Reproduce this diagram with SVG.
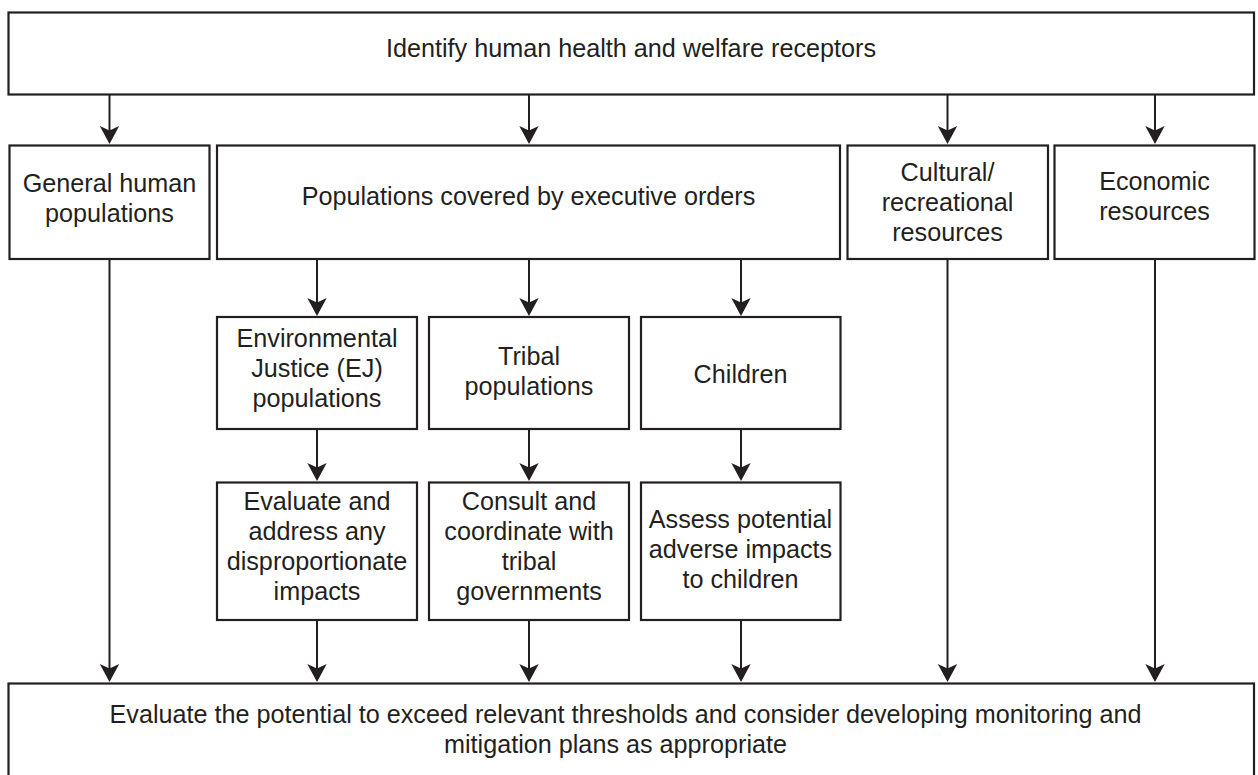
<svg xmlns="http://www.w3.org/2000/svg" width="1258" height="775" viewBox="0 0 1258 775">
<style>
.box{fill:#fff;stroke:#231f20;stroke-width:2.2}
.t{font-family:"Liberation Sans",Arial,sans-serif;font-size:25.2px;fill:#231f20;text-anchor:middle}
.c{stroke:#231f20;stroke-width:2;fill:none;marker-end:url(#ah)}
</style>
<defs>
<marker id="ah" markerUnits="userSpaceOnUse" markerWidth="22" markerHeight="24" viewBox="-20 -12 22 24" refX="-8" refY="0" orient="auto">
<path d="M0,0 L-18,-9.7 L-13.5,0 L-18,9.7 Z" fill="#231f20"/>
</marker>
</defs>
<rect width="1258" height="775" fill="#fff"/>
<g id="connectors">
<line class="c" x1="109.5" y1="94" x2="109.5" y2="136"/>
<line class="c" x1="529" y1="94" x2="529" y2="136"/>
<line class="c" x1="947.5" y1="94" x2="947.5" y2="136"/>
<line class="c" x1="1155" y1="94" x2="1155" y2="136"/>
<line class="c" x1="317" y1="259" x2="317" y2="308"/>
<line class="c" x1="529" y1="259" x2="529" y2="308"/>
<line class="c" x1="741" y1="259" x2="741" y2="308"/>
<line class="c" x1="317" y1="429" x2="317" y2="473"/>
<line class="c" x1="529" y1="429" x2="529" y2="473"/>
<line class="c" x1="741" y1="429" x2="741" y2="473"/>
<line class="c" x1="317" y1="620" x2="317" y2="674"/>
<line class="c" x1="529" y1="620" x2="529" y2="674"/>
<line class="c" x1="741" y1="620" x2="741" y2="674"/>
<line class="c" x1="109.5" y1="259" x2="109.5" y2="674"/>
<line class="c" x1="947.5" y1="259" x2="947.5" y2="674"/>
<line class="c" x1="1155" y1="259" x2="1155" y2="674"/>
</g>
<g id="identify">
<rect class="box" x="8.5" y="12.5" width="1245.5" height="82"/>
<text class="t" x="631" y="57">Identify human health and welfare receptors</text>
</g>
<g id="general">
<rect class="box" x="9.5" y="145.5" width="200" height="113.5"/>
<text class="t" x="109.5" y="192">General human</text>
<text class="t" x="109.5" y="222">populations</text>
</g>
<g id="executive">
<rect class="box" x="217" y="145.5" width="623" height="113.5"/>
<text class="t" x="528.5" y="205">Populations covered by executive orders</text>
</g>
<g id="cultural">
<rect class="box" x="847.5" y="145.5" width="200.5" height="113.5"/>
<text class="t" x="947.5" y="181">Cultural/</text>
<text class="t" x="947.5" y="211">recreational</text>
<text class="t" x="947.5" y="241">resources</text>
</g>
<g id="economic">
<rect class="box" x="1054.5" y="145.5" width="200" height="113.5"/>
<text class="t" x="1154.5" y="190">Economic</text>
<text class="t" x="1154.5" y="220">resources</text>
</g>
<g id="ej">
<rect class="box" x="217" y="317" width="200" height="112"/>
<text class="t" x="317" y="347">Environmental</text>
<text class="t" x="317" y="377">Justice (EJ)</text>
<text class="t" x="317" y="407">populations</text>
</g>
<g id="tribal">
<rect class="box" x="429" y="317" width="200" height="112"/>
<text class="t" x="529" y="365">Tribal</text>
<text class="t" x="529" y="395">populations</text>
</g>
<g id="children">
<rect class="box" x="641" y="317" width="199.5" height="112"/>
<text class="t" x="740.5" y="383">Children</text>
</g>
<g id="ej-action">
<rect class="box" x="217" y="482.5" width="200" height="137.5"/>
<text class="t" x="317" y="510">Evaluate and</text>
<text class="t" x="317" y="540">address any</text>
<text class="t" x="317" y="570">disproportionate</text>
<text class="t" x="317" y="600">impacts</text>
</g>
<g id="tribal-action">
<rect class="box" x="429" y="482.5" width="200" height="137.5"/>
<text class="t" x="529" y="510">Consult and</text>
<text class="t" x="529" y="540">coordinate with</text>
<text class="t" x="529" y="570">tribal</text>
<text class="t" x="529" y="600">governments</text>
</g>
<g id="children-action">
<rect class="box" x="641" y="482.5" width="199.5" height="137.5"/>
<text class="t" x="740.5" y="528">Assess potential</text>
<text class="t" x="740.5" y="558">adverse impacts</text>
<text class="t" x="740.5" y="588">to children</text>
</g>
<g id="evaluate">
<rect class="box" x="8.5" y="683.5" width="1245.5" height="100"/>
<text class="t" x="625.5" y="723">Evaluate the potential to exceed relevant thresholds and consider developing monitoring and</text>
<text class="t" x="615.5" y="753">mitigation plans as appropriate</text>
</g>
</svg>
